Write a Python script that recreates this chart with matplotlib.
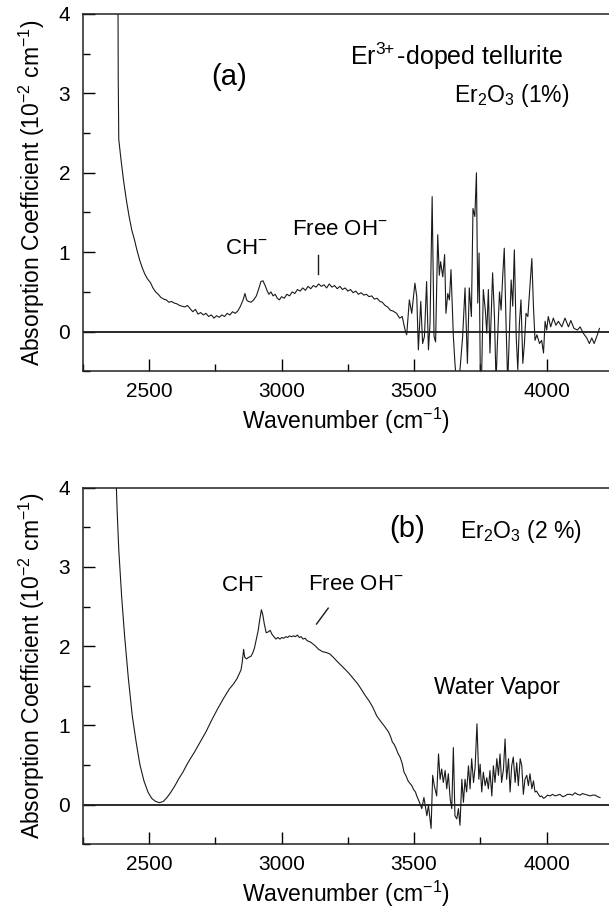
import matplotlib
matplotlib.use('Agg')
import matplotlib.pyplot as plt
from matplotlib.ticker import MultipleLocator

plt.rcParams['font.family'] = 'Liberation Sans'
plt.rcParams['mathtext.fontset'] = 'custom'
plt.rcParams['mathtext.rm'] = 'Liberation Sans'
plt.rcParams['mathtext.it'] = 'Liberation Sans'
plt.rcParams['mathtext.bf'] = 'Liberation Sans'

# panel (a): Er2O3 1 %
wn_a = [2383, 2384, 2386, 2395, 2405, 2415, 2425, 2435, 2445, 2455, 2465, 2475, 2485, 2495,
        2505, 2515, 2525, 2535, 2545, 2555, 2565, 2575, 2585, 2595, 2605, 2615, 2625, 2635,
        2645, 2655, 2665, 2675, 2685, 2695, 2705, 2715, 2725, 2735, 2745, 2755, 2765, 2775,
        2785, 2795, 2805, 2815, 2825, 2835, 2845, 2855, 2862, 2868, 2875, 2885, 2895, 2905,
        2915, 2922, 2930, 2938, 2945, 2952, 2960, 2968, 2976, 2984, 2992, 3000, 3010, 3020,
        3030, 3040, 3050, 3060, 3070, 3080, 3090, 3100, 3110, 3120, 3130, 3140, 3150, 3160,
        3170, 3180, 3190, 3200, 3210, 3220, 3230, 3240, 3250, 3260, 3270, 3280, 3290, 3300,
        3310, 3320, 3330, 3340, 3350, 3360, 3371, 3380, 3390, 3400, 3410, 3420, 3434, 3445,
        3455, 3466, 3472, 3482, 3491, 3503, 3510, 3516, 3525, 3532, 3539, 3547, 3554, 3560,
        3568, 3575, 3581, 3589, 3595, 3600, 3608, 3615, 3620, 3627, 3633, 3639, 3648, 3654,
        3661, 3673, 3683, 3692, 3701, 3708, 3716, 3722, 3729, 3735, 3740, 3745, 3750, 3755,
        3761, 3769, 3774, 3780, 3786, 3796, 3803, 3809, 3814, 3822, 3828, 3834, 3840, 3847,
        3853, 3859, 3866, 3872, 3878, 3885, 3891, 3897, 3903, 3910, 3916, 3922, 3929, 3935,
        3944, 3950, 3956, 3963, 3973, 3981, 3988, 3994, 4000, 4006, 4015, 4025, 4035, 4044,
        4057, 4069, 4082, 4091, 4103, 4116, 4126, 4138, 4151, 4161, 4170, 4179, 4189, 4199]
abs_a = [4.30, 3.20, 2.42, 2.15, 1.88, 1.65, 1.45, 1.28, 1.16, 1.02, 0.90, 0.80, 0.72, 0.66,
         0.62, 0.55, 0.50, 0.47, 0.43, 0.41, 0.40, 0.37, 0.38, 0.36, 0.35, 0.33, 0.32, 0.31,
         0.33, 0.29, 0.25, 0.28, 0.22, 0.24, 0.21, 0.23, 0.19, 0.21, 0.17, 0.20, 0.18, 0.21,
         0.19, 0.23, 0.21, 0.25, 0.23, 0.26, 0.32, 0.40, 0.48, 0.40, 0.38, 0.37, 0.40, 0.45,
         0.55, 0.63, 0.64, 0.58, 0.52, 0.47, 0.50, 0.45, 0.47, 0.42, 0.40, 0.44, 0.42, 0.47,
         0.45, 0.50, 0.48, 0.53, 0.51, 0.55, 0.52, 0.57, 0.54, 0.58, 0.56, 0.60, 0.57, 0.59,
         0.55, 0.60, 0.56, 0.58, 0.54, 0.57, 0.53, 0.55, 0.51, 0.53, 0.49, 0.51, 0.47, 0.49,
         0.46, 0.47, 0.44, 0.45, 0.41, 0.42, 0.38, 0.37, 0.33, 0.31, 0.27, 0.26, 0.23, 0.17,
         0.19, 0.02, -0.04, 0.40, 0.23, 0.61, 0.44, -0.23, 0.38, -0.15, -0.06, 0.63, -0.23, 0.10,
         1.70, -0.06, -0.13, 1.22, 0.71, 0.88, 0.69, 0.97, 0.23, 0.48, 0.40, 0.78, -0.06, -0.40,
         -0.70, -0.48, -0.06, 0.55, -0.40, 0.55, 0.19, 1.55, 1.45, 2.00, 0.36, 0.99, -0.65, -0.48,
         0.53, 0.25, -0.02, 0.53, -0.27, 0.74, 0.19, -0.65, -0.15, 0.50, 0.27, 0.69, 1.05, 0.06,
         -0.65, -0.06, 0.65, 0.32, 1.03, -0.06, -0.48, 0.10, 0.40, -0.40, -0.15, 0.23, 0.19, 0.48,
         0.92, 0.32, -0.11, -0.04, -0.15, -0.11, -0.27, 0.13, 0.02, 0.19, 0.06, 0.17, 0.08, 0.13,
         0.06, 0.17, 0.06, 0.14, 0.04, 0.02, 0.06, -0.02, -0.08, -0.15, -0.08, -0.15, -0.06, 0.04]

# panel (b): Er2O3 2 %
wn_b = [2374, 2380, 2386, 2397, 2408, 2422, 2437, 2452, 2466, 2481, 2496, 2510, 2525, 2540,
        2554, 2568, 2583, 2598, 2613, 2628, 2642, 2656, 2671, 2693, 2715, 2737, 2759, 2781,
        2803, 2818, 2832, 2847, 2851, 2857, 2861, 2868, 2876, 2884, 2891, 2898, 2905, 2912,
        2917, 2924, 2929, 2935, 2942, 2950, 2957, 2964, 2971, 2979, 2986, 2994, 3001, 3008,
        3016, 3023, 3030, 3038, 3045, 3052, 3060, 3067, 3074, 3081, 3089, 3096, 3110, 3125,
        3140, 3155, 3169, 3183, 3198, 3212, 3227, 3242, 3256, 3271, 3286, 3300, 3315, 3330,
        3344, 3359, 3374, 3388, 3403, 3411, 3418, 3425, 3433, 3440, 3447, 3455, 3462, 3470,
        3477, 3484, 3491, 3498, 3505, 3510, 3520, 3529, 3537, 3548, 3554, 3560, 3564, 3570,
        3576, 3585, 3592, 3598, 3604, 3610, 3617, 3623, 3629, 3636, 3642, 3648, 3654, 3661,
        3667, 3673, 3680, 3686, 3692, 3698, 3705, 3711, 3717, 3724, 3730, 3737, 3744, 3749,
        3755, 3761, 3768, 3774, 3780, 3786, 3793, 3799, 3805, 3812, 3818, 3824, 3830, 3837,
        3843, 3849, 3856, 3862, 3868, 3874, 3881, 3887, 3893, 3900, 3906, 3912, 3918, 3925,
        3931, 3937, 3944, 3950, 3956, 3962, 3969, 3975, 3981, 3988, 3994, 4003, 4013, 4022,
        4032, 4041, 4050, 4060, 4069, 4078, 4088, 4097, 4107, 4116, 4126, 4135, 4145, 4154,
        4164, 4173, 4183, 4192, 4201]
abs_b = [4.30, 3.70, 3.22, 2.62, 2.13, 1.60, 1.12, 0.78, 0.50, 0.30, 0.16, 0.08, 0.04, 0.025,
         0.04, 0.09, 0.16, 0.24, 0.33, 0.41, 0.50, 0.58, 0.66, 0.79, 0.92, 1.07, 1.21, 1.34,
         1.46, 1.52, 1.59, 1.70, 1.78, 1.96, 1.86, 1.84, 1.86, 1.87, 1.91, 1.98, 2.09, 2.20,
         2.32, 2.46, 2.40, 2.28, 2.17, 2.18, 2.20, 2.15, 2.12, 2.09, 2.11, 2.09, 2.11, 2.10,
         2.12, 2.11, 2.13, 2.12, 2.13, 2.12, 2.14, 2.11, 2.12, 2.09, 2.10, 2.07, 2.05, 2.01,
         1.96, 1.93, 1.92, 1.90, 1.85, 1.80, 1.75, 1.70, 1.65, 1.59, 1.53, 1.46, 1.38, 1.31,
         1.23, 1.12, 1.05, 0.99, 0.92, 0.86, 0.79, 0.76, 0.70, 0.64, 0.60, 0.52, 0.41, 0.36,
         0.30, 0.27, 0.24, 0.19, 0.16, 0.11, 0.03, -0.05, 0.09, -0.14, -0.01, -0.18, -0.30, 0.37,
         0.24, 0.11, 0.64, 0.32, 0.45, 0.28, 0.43, 0.20, 0.39, 0.07, -0.05, 0.72, -0.14, -0.18,
         -0.05, -0.26, 0.32, 0.03, 0.32, 0.16, 0.49, 0.20, 0.58, 0.28, 0.47, 1.02, 0.32, 0.51,
         0.16, 0.41, 0.24, 0.34, 0.20, 0.43, 0.11, 0.49, 0.28, 0.58, 0.37, 0.64, 0.28, 0.45,
         0.83, 0.32, 0.58, 0.16, 0.49, 0.60, 0.28, 0.53, 0.24, 0.58, 0.49, 0.13, 0.32, 0.37,
         0.24, 0.39, 0.20, 0.30, 0.16, 0.17, 0.13, 0.10, 0.11, 0.08, 0.09, 0.12, 0.11, 0.13,
         0.11, 0.12, 0.13, 0.10, 0.11, 0.13, 0.13, 0.12, 0.15, 0.13, 0.12, 0.14, 0.13, 0.12,
         0.11, 0.12, 0.12, 0.10, 0.09]

x_ticks = [2500, 3000, 3500, 4000]
y_ticks = [0, 1, 2, 3, 4]

ylab = r'Absorption Coefficient (10$^{-2}$ cm$^{-1}$)'
xlab = r'Wavenumber (cm$^{-1}$)'

fig = plt.figure(figsize=(6.09, 9.13), dpi=100)
ax_a = fig.add_axes([0.1358, 0.5933, 0.8642, 0.3914])
ax_b = fig.add_axes([0.1358, 0.0753, 0.8642, 0.3905])

for ax, wn, ab in [(ax_a, wn_a, abs_a), (ax_b, wn_b, abs_b)]:
    ax.plot(wn, ab, color='#1a1a1a', lw=0.8)
    ax.axhline(0, color='#1a1a1a', lw=1.3)
    ax.set_xlim(2250, 4235)
    ax.set_ylim(-0.5, 4)
    ax.set_xticks(x_ticks)
    ax.set_yticks(y_ticks)
    ax.xaxis.set_minor_locator(MultipleLocator(250))
    ax.yaxis.set_minor_locator(MultipleLocator(0.5))
    ax.tick_params(which='major', direction='in', length=8.5, width=1.0,
                   labelsize=15, top=False, right=False)
    ax.tick_params(axis='x', which='major', pad=8)
    ax.tick_params(axis='y', which='major', pad=9)
    ax.tick_params(which='minor', direction='in', length=4.8, width=1.0,
                   top=False, right=False)
    ax.spines['right'].set_visible(False)
    for s in ['left', 'bottom', 'top']:
        ax.spines[s].set_linewidth(1.1)
        ax.spines[s].set_color('#222222')
    ax.set_xlabel(xlab, fontsize=16.5, labelpad=3)
    ax.set_ylabel(ylab, fontsize=16.5, labelpad=8)

# text on panel (a)
ax_a.text(2803, 3.2, '(a)', fontsize=21, ha='center', va='center')
ax_a.text(3257, 3.47, r'Er$^{3\!\!+}$-doped tellurite', fontsize=18, ha='left', va='center')
ax_a.text(3652, 2.97, r'Er$_2$O$_3$ (1%)', fontsize=16.5, ha='left', va='center')
ax_a.text(2788, 1.05, r'CH$^{-}$', fontsize=16, ha='left', va='center')
ax_a.text(3040, 1.28, r'Free OH$^{-}$', fontsize=16, ha='left', va='center')
ax_a.plot([3137, 3137], [0.73, 0.97], color='#1a1a1a', lw=1.0)

# text on panel (b)
ax_b.text(3472, 3.48, '(b)', fontsize=21, ha='center', va='center')
ax_b.text(3674, 3.45, r'Er$_2$O$_3$ (2 %)', fontsize=16.5, ha='left', va='center')
ax_b.text(2771, 2.76, r'CH$^{-}$', fontsize=16, ha='left', va='center')
ax_b.text(3100, 2.78, r'Free OH$^{-}$', fontsize=16, ha='left', va='center')
ax_b.plot([3132, 3176], [2.28, 2.48], color='#1a1a1a', lw=1.0)
ax_b.text(3574, 1.48, 'Water Vapor', fontsize=16.5, ha='left', va='center')

fig.savefig('out.png', dpi=100)
